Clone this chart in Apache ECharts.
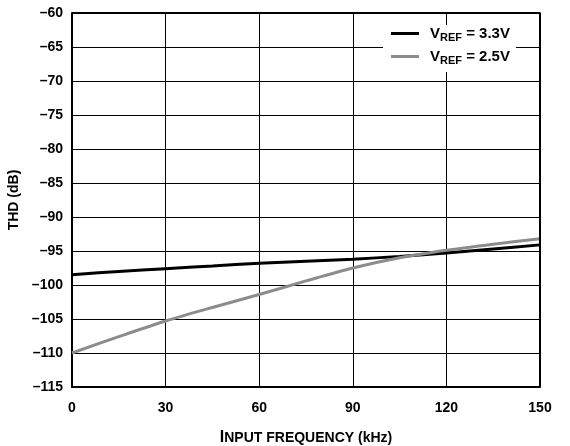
<!DOCTYPE html>
<html>
<head>
<meta charset="utf-8">
<script src="https://cdn.jsdelivr.net/npm/echarts@6/dist/echarts.min.js"></script>
<style>
html, body { margin: 0; padding: 0; background: #fff; }
#main { width: 570px; height: 446px; }
</style>
</head>
<body>
<div id="main"></div>
<script>
var freq = [0, 15, 30, 45, 60, 75, 90, 105, 120, 135, 150];
// VREF = 3.3V
var thd33 = [-98.5, -98.0, -97.6, -97.2, -96.8, -96.5, -96.2, -95.8, -95.3, -94.7, -94.1];
// VREF = 2.5V
var thd25 = [-110, -107.6, -105.3, -103.3, -101.4, -99.4, -97.5, -96.0, -94.9, -94.0, -93.2];
var seriesNames = ['3.3', '2.5'];

var font = 'Liberation Sans';

function pairs(xs, ys) {
	return xs.map(function (x, i) { return [x, ys[i]]; });
}

var myChart = echarts.init(document.getElementById('main'));
var option = {
	animation: false,
	grid: {
		left: 72,
		right: 30,
		top: 13,
		bottom: 59,
		containLabel: false,
		outerBoundsMode: 'none'
	},
	legend: {
		left: 383,
		top: 25,
		width: 142,
		orient: 'vertical',
		backgroundColor: '#fff',
		padding: [1, 6, 6, 8],
		itemGap: 6,
		itemWidth: 28,
		itemHeight: 3,
		icon: 'rect',
		data: seriesNames,
		formatter: function (name) {
			return '{v|V}{b|REF}{a| = ' + name + 'V}';
		},
		textStyle: {
			color: '#000',
			rich: {
				v: { fontFamily: font, fontWeight: 'bold', fontSize: 15, color: '#000', lineHeight: 19, padding: [0, 0, 0, 6] },
				a: { fontFamily: font, fontWeight: 'bold', fontSize: 15, color: '#000', lineHeight: 19 },
				b: { fontFamily: font, fontWeight: 'bold', fontSize: 11, color: '#000', lineHeight: 10, verticalAlign: 'bottom' }
			}
		}
	},
	xAxis: {
		type: 'value',
		min: 0,
		max: 150,
		interval: 30,
		name: '{i|I}NPUT FREQUENCY (kHz)',
		nameLocation: 'middle',
		nameGap: 43,
		nameTextStyle: {
			rich: {
				i: { fontFamily: font, fontWeight: 'bold', fontSize: 16, color: '#000' }
			},
			fontFamily: font,
			fontWeight: 'bold',
			fontSize: 14,
			color: '#000'
		},
		axisLine: { lineStyle: { color: '#000', width: 2 } },
		axisTick: { show: false },
		axisLabel: { fontFamily: font, fontWeight: 'bold', fontSize: 14, color: '#000', margin: 14 },
		splitLine: { show: true, lineStyle: { color: '#000', width: 1 } }
	},
	yAxis: {
		type: 'value',
		min: -115,
		max: -60,
		interval: 5,
		name: 'THD (dB)',
		nameLocation: 'middle',
		nameGap: 42,
		nameTextStyle: { fontFamily: font, fontWeight: 'bold', fontSize: 14, color: '#000' },
		axisLine: { show: true, lineStyle: { color: '#000', width: 2 } },
		axisTick: { show: false },
		axisLabel: {
			fontFamily: font, fontWeight: 'bold', fontSize: 14, color: '#000', margin: 9,
			formatter: function (v) { return v < 0 ? '\u2013' + Math.abs(v) : String(v); }
		},
		splitLine: { show: true, lineStyle: { color: '#000', width: 1 } }
	},
	series: [
		{
			name: seriesNames[0],
			type: 'line',
			data: pairs(freq, thd33),
			smooth: 0.3,
			showSymbol: false,
			lineStyle: { color: '#000', width: 3 },
			itemStyle: { color: '#000' },
			z: 3
		},
		{
			name: seriesNames[1],
			type: 'line',
			data: pairs(freq, thd25),
			smooth: 0.3,
			showSymbol: false,
			lineStyle: { color: '#8c8c8c', width: 3 },
			itemStyle: { color: '#8c8c8c' },
			z: 4
		},
		{
			// plot frame (top and right edges)
			type: 'line',
			data: [[0, -60], [150, -60], [150, -115]],
			showSymbol: false,
			silent: true,
			lineStyle: { color: '#000', width: 2 },
			z: 5
		}
	]
};
myChart.setOption(option);
</script>
</body>
</html>
